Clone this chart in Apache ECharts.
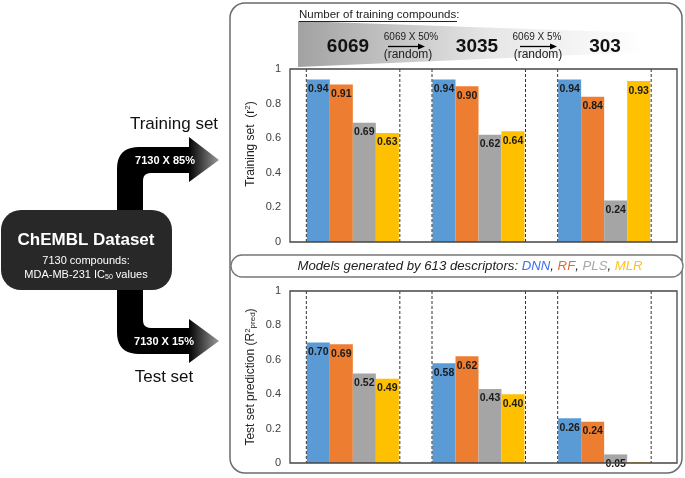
<!DOCTYPE html>
<html>
<head>
<meta charset="utf-8">
<script src="https://cdn.jsdelivr.net/npm/echarts@6/dist/echarts.min.js"></script>
<style>html,body{margin:0;padding:0;background:#fff}#c{width:685px;height:478px}</style>
</head>
<body>
<div id="c"></div>
<script>
// ---- data ----
const groups = ['6069', '3035', '303'];
const models = ['DNN', 'RF', 'PLS', 'MLR'];
const colors = ['#5B9BD5', '#ED7D31', '#A5A5A5', '#FFC000'];
const trainDNN = [0.94, 0.94, 0.94];
const trainRF  = [0.91, 0.90, 0.84];
const trainPLS = [0.69, 0.62, 0.24];
const trainMLR = [0.63, 0.64, 0.93];
const testDNN = [0.70, 0.58, 0.26];
const testRF  = [0.69, 0.62, 0.24];
const testPLS = [0.52, 0.43, 0.05];
const testMLR = [0.49, 0.40, 0.004];
const yTicks = [0, 0.2, 0.4, 0.6, 0.8, 1];

const FONT = 'Liberation Sans, Arial, sans-serif';
const chart = echarts.init(document.getElementById('c'), null, {renderer: 'canvas'});

const trainData = [trainDNN, trainRF, trainPLS, trainMLR];
const testData = [testDNN, testRF, testPLS, testMLR];

function barSeries(vals, i, axisIdx) {
  return {
    type: 'bar', name: models[i], xAxisIndex: axisIdx, yAxisIndex: axisIdx,
    data: vals, barWidth: 23, barGap: '0%',
    itemStyle: {color: colors[i]},
    label: {
      show: true, position: 'insideTop', distance: 4,
      fontFamily: FONT, fontWeight: 'bold', fontSize: 10.5, color: '#1a1a1a',
      formatter: p => (p.value < 0.01 ? '' : p.value.toFixed(2))
    },
    z: 2
  };
}
function dashSeries(axisIdx) {
  return {
    type: 'custom', xAxisIndex: axisIdx, yAxisIndex: axisIdx, z: 5, silent: true,
    data: groups.map((g, i) => [i, 0]),
    encode: {x: 0, y: 1},
    renderItem: (params, api) => {
      const b = api.coord([api.value(0), 0]);
      const t = api.coord([api.value(0), 1]);
      const st = {stroke: '#333', lineWidth: 1, lineDash: [3, 2]};
      return {type: 'group', children: [
        {type: 'line', shape: {x1: b[0] - 46.5, y1: t[1], x2: b[0] - 46.5, y2: b[1]}, style: st},
        {type: 'line', shape: {x1: b[0] + 47, y1: t[1], x2: b[0] + 47, y2: b[1]}, style: st}
      ]};
    }
  };
}
const yAxisCommon = {
  type: 'value', min: 0, max: 1, interval: 0.2,
  axisLine: {show: false}, axisTick: {show: false}, splitLine: {show: false},
  axisLabel: {fontFamily: FONT, fontSize: 11, color: '#404040', margin: 9,
    formatter: v => { const t = yTicks.find(x => Math.abs(x - v) < 1e-6); return t === undefined ? '' : String(t); }}
};
const xAxisCommon = {
  type: 'category', data: groups,
  axisLine: {show: false}, axisTick: {show: false}, axisLabel: {show: false}
};

function arrowSmall(x1, x2, y) {
  return [
    {type: 'line', shape: {x1: x1, y1: y, x2: x2 - 5, y2: y}, style: {stroke: '#000', lineWidth: 1.3}},
    {type: 'polygon', shape: {points: [[x2 - 7, y - 3], [x2, y], [x2 - 7, y + 3]]}, style: {fill: '#000'}}
  ];
}
const arrowGrad = () => new echarts.graphic.LinearGradient(0, 0, 1, 0, [
  {offset: 0, color: '#000'}, {offset: 0.7, color: '#000'}, {offset: 1, color: '#9a9a9a'}
]);
// quadratic curve sampler for arrow outline
function quad(p0, c, p1, n) {
  const out = [];
  for (let i = 0; i <= n; i++) {
    const t = i / n, u = 1 - t;
    out.push([u * u * p0[0] + 2 * u * t * c[0] + t * t * p1[0], u * u * p0[1] + 2 * u * t * c[1] + t * t * p1[1]]);
  }
  return out;
}
const arrowTop = [[117, 214], ...quad([117, 169], [117, 147], [139, 147], 10),
  [189, 147], [189, 137], [219, 160], [189, 182], [189, 173],
  ...quad([151, 173], [143, 173], [143, 181], 6), [143, 214]];
const arrowBot = [[117, 286], ...quad([117, 332], [117, 354], [139, 354], 10),
  [189, 354], [189, 363], [219, 341], [189, 319], [189, 328],
  ...quad([151, 328], [143, 328], [143, 320], 6), [143, 286]];

const option = {
  animation: false,
  grid: [
    {left: 290, top: 69, width: 377, height: 173},
    {left: 290, top: 291, width: 377, height: 172}
  ],
  xAxis: [Object.assign({gridIndex: 0}, xAxisCommon), Object.assign({gridIndex: 1}, xAxisCommon)],
  yAxis: [Object.assign({gridIndex: 0}, yAxisCommon), Object.assign({gridIndex: 1}, yAxisCommon)],
  series: [
    ...trainData.map((v, i) => barSeries(v, i, 0)),
    ...testData.map((v, i) => barSeries(v, i, 1)),
    dashSeries(0), dashSeries(1)
  ],
  graphic: [
    // outer frame
    {type: 'rect', z: -10, shape: {x: 230, y: 3, width: 452, height: 470, r: 15},
      style: {fill: '#fff', stroke: '#6b6b6b', lineWidth: 1.5}},
    // header gradient wedge
    {type: 'polygon', z: -5, shape: {points: [[298, 21], [645, 33], [645, 52], [298, 67]]},
      style: {fill: new echarts.graphic.LinearGradient(0, 0, 1, 0, [
        {offset: 0, color: '#a2a2a2'}, {offset: 0.55, color: '#e6e6e6'}, {offset: 1, color: '#ffffff'}])}},
    {type: 'text', z: 10, style: {x: 299, y: 15, text: 'Number of training compounds:', font: '11.5px ' + FONT,
      fill: '#222', align: 'left', verticalAlign: 'middle'}},
    {type: 'line', z: 10, shape: {x1: 299, y1: 21.5, x2: 457, y2: 21.5}, style: {stroke: '#222', lineWidth: 1}},
    {type: 'text', z: 10, style: {x: 348, y: 47, text: groups[0], font: 'bold 19px ' + FONT, fill: '#111', align: 'center', verticalAlign: 'middle'}},
    {type: 'text', z: 10, style: {x: 477, y: 47, text: groups[1], font: 'bold 19px ' + FONT, fill: '#111', align: 'center', verticalAlign: 'middle'}},
    {type: 'text', z: 10, style: {x: 605, y: 47, text: groups[2], font: 'bold 19px ' + FONT, fill: '#111', align: 'center', verticalAlign: 'middle'}},
    {type: 'text', z: 10, style: {x: 411, y: 37, text: '6069 X 50%', font: '10px ' + FONT, fill: '#222', align: 'center', verticalAlign: 'middle'}},
    {type: 'text', z: 10, style: {x: 408, y: 55, text: '(random)', font: '12px ' + FONT, fill: '#222', align: 'center', verticalAlign: 'middle'}},
    {type: 'text', z: 10, style: {x: 537, y: 37, text: '6069 X 5%', font: '10px ' + FONT, fill: '#222', align: 'center', verticalAlign: 'middle'}},
    {type: 'text', z: 10, style: {x: 538, y: 55, text: '(random)', font: '12px ' + FONT, fill: '#222', align: 'center', verticalAlign: 'middle'}},
    ...arrowSmall(388, 425, 46.5).map(e => Object.assign(e, {z: 10})),
    ...arrowSmall(520, 557, 46.5).map(e => Object.assign(e, {z: 10})),
    // plot borders
    {type: 'rect', z: 20, shape: {x: 290, y: 69, width: 387, height: 173},
      style: {fill: 'none', stroke: '#454545', lineWidth: 1.3}},
    {type: 'rect', z: 20, shape: {x: 290, y: 291, width: 387, height: 172},
      style: {fill: 'none', stroke: '#454545', lineWidth: 1.3}},
    // axis titles
    {type: 'text', z: 10, x: 251, y: 144, rotation: Math.PI / 2,
      style: {x: 0, y: 0, text: 'Training set  (r{sup|2})', font: '12px ' + FONT, fill: '#222',
        align: 'center', verticalAlign: 'middle',
        rich: {sup: {fontSize: 8, fontFamily: FONT, fill: '#222', padding: [0, 0, 6, 0]}}}},
    {type: 'text', z: 10, x: 251, y: 377, rotation: Math.PI / 2,
      style: {x: 0, y: 0, text: 'Test set prediction (R{sup|2}{sub|pred})', font: '12px ' + FONT, fill: '#222',
        align: 'center', verticalAlign: 'middle',
        rich: {sup: {fontSize: 8, fontFamily: FONT, fill: '#222', padding: [0, 0, 6, 0]},
               sub: {fontSize: 8, fontFamily: FONT, fill: '#222', padding: [4, 0, 0, 0]}}}},
    // banner
    {type: 'rect', z: 15, shape: {x: 231, y: 255, width: 452, height: 22, r: 11},
      style: {fill: '#fff', stroke: '#777', lineWidth: 1.3}},
    {type: 'text', z: 16, style: {x: 470, y: 266.5,
      text: '{a|Models generated by 613 descriptors: }{b|DNN}{a|, }{c|RF}{a|, }{d|PLS}{a|, }{e|MLR}',
      align: 'center', verticalAlign: 'middle',
      rich: {
        a: {fontSize: 13.2, fontStyle: 'italic', fontFamily: FONT, fill: '#222'},
        b: {fontSize: 13.2, fontStyle: 'italic', fontFamily: FONT, fill: '#3f6ff0'},
        c: {fontSize: 13.2, fontStyle: 'italic', fontFamily: FONT, fill: '#e8662c'},
        d: {fontSize: 13.2, fontStyle: 'italic', fontFamily: FONT, fill: '#a8a8a8'},
        e: {fontSize: 13.2, fontStyle: 'italic', fontFamily: FONT, fill: '#ffc31a'}
      }}},
    // left: arrows
    {type: 'polygon', z: 5, shape: {points: arrowTop}, style: {fill: arrowGrad()}},
    {type: 'polygon', z: 5, shape: {points: arrowBot}, style: {fill: arrowGrad()}},
    {type: 'text', z: 8, style: {x: 165, y: 161, text: '7130 X 85%', font: 'bold 11px ' + FONT, fill: '#fff', align: 'center', verticalAlign: 'middle'}},
    {type: 'text', z: 8, style: {x: 164, y: 342, text: '7130 X 15%', font: 'bold 11px ' + FONT, fill: '#fff', align: 'center', verticalAlign: 'middle'}},
    {type: 'text', z: 8, style: {x: 174, y: 124, text: 'Training set', font: '17px ' + FONT, fill: '#111', align: 'center', verticalAlign: 'middle'}},
    {type: 'text', z: 8, style: {x: 164, y: 377, text: 'Test set', font: '17px ' + FONT, fill: '#111', align: 'center', verticalAlign: 'middle'}},
    // dataset box
    {type: 'rect', z: 6, shape: {x: 1, y: 210, width: 171, height: 80, r: 20},
      style: {fill: '#282828'}},
    {type: 'text', z: 8, style: {x: 86, y: 240, text: 'ChEMBL Dataset', font: 'bold 17px ' + FONT, fill: '#fff', align: 'center', verticalAlign: 'middle'}},
    {type: 'text', z: 8, style: {x: 86, y: 261, text: '7130 compounds:', font: '11px ' + FONT, fill: '#fff', align: 'center', verticalAlign: 'middle'}},
    {type: 'text', z: 8, style: {x: 86, y: 275, text: 'MDA-MB-231 IC{sub|50} values', font: '11px ' + FONT, fill: '#fff',
      align: 'center', verticalAlign: 'middle',
      rich: {sub: {fontSize: 7, fontFamily: FONT, fill: '#fff', padding: [4, 0, 0, 0]}}}}
  ]
};
chart.setOption(option);
</script>
</body>
</html>
